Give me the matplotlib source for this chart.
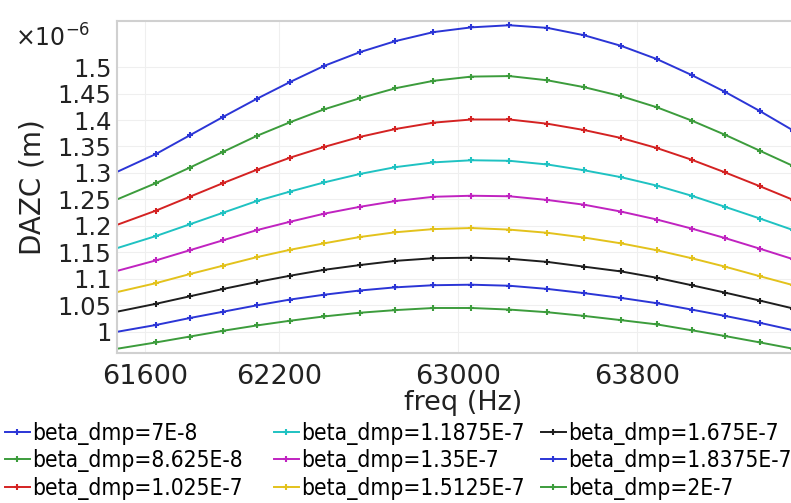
import matplotlib
matplotlib.use('Agg')
import matplotlib.pyplot as plt
from matplotlib import font_manager

# frequencies (Hz), roughly where the markers sit in the original
freq = [61475, 61650, 61800, 61950, 62100, 62250, 62400, 62560, 62720, 62890,
        63060, 63230, 63400, 63565, 63730, 63890, 64045, 64195, 64350, 64500]

# DAZC values (x1e-6 m)
dazc_7e8 = [1.302, 1.336, 1.371, 1.406, 1.440, 1.472, 1.502, 1.528, 1.549, 1.566,
            1.575, 1.579, 1.574, 1.560, 1.540, 1.515, 1.485, 1.453, 1.417, 1.380]
dazc_8625e8 = [1.250, 1.281, 1.310, 1.340, 1.370, 1.396, 1.420, 1.441, 1.460, 1.474,
               1.482, 1.483, 1.475, 1.462, 1.445, 1.424, 1.399, 1.372, 1.342, 1.313]
dazc_1025e7 = [1.202, 1.229, 1.255, 1.281, 1.306, 1.329, 1.349, 1.368, 1.383, 1.395,
               1.401, 1.401, 1.393, 1.381, 1.366, 1.347, 1.325, 1.301, 1.275, 1.249]
dazc_11875e7 = [1.158, 1.181, 1.203, 1.225, 1.247, 1.265, 1.282, 1.298, 1.311, 1.320,
                1.324, 1.323, 1.316, 1.305, 1.292, 1.276, 1.257, 1.236, 1.214, 1.192]
dazc_135e7 = [1.115, 1.135, 1.154, 1.173, 1.192, 1.208, 1.223, 1.236, 1.247, 1.255,
              1.257, 1.256, 1.249, 1.240, 1.227, 1.212, 1.195, 1.177, 1.157, 1.137]
dazc_15125e7 = [1.075, 1.092, 1.109, 1.125, 1.141, 1.155, 1.167, 1.179, 1.188, 1.194,
                1.196, 1.193, 1.187, 1.178, 1.167, 1.154, 1.139, 1.123, 1.105, 1.088]
dazc_1675e7 = [1.038, 1.053, 1.067, 1.081, 1.094, 1.106, 1.117, 1.126, 1.134, 1.139,
               1.140, 1.138, 1.132, 1.123, 1.114, 1.102, 1.088, 1.074, 1.059, 1.044]
dazc_18375e7 = [1.000, 1.013, 1.026, 1.038, 1.050, 1.061, 1.070, 1.078, 1.084, 1.088,
                1.089, 1.087, 1.081, 1.073, 1.064, 1.054, 1.042, 1.030, 1.017, 1.003]
dazc_2e7 = [0.968, 0.980, 0.991, 1.002, 1.012, 1.021, 1.029, 1.036, 1.041, 1.045,
            1.045, 1.042, 1.037, 1.030, 1.022, 1.014, 1.003, 0.992, 0.980, 0.968]

labels = ['beta_dmp=7E-8', 'beta_dmp=8.625E-8', 'beta_dmp=1.025E-7',
          'beta_dmp=1.1875E-7', 'beta_dmp=1.35E-7', 'beta_dmp=1.5125E-7',
          'beta_dmp=1.675E-7', 'beta_dmp=1.8375E-7', 'beta_dmp=2E-7']
colors = ['#2b35d6', '#3c9c3c', '#d42222', '#1fc2c2', '#c023c0',
          '#e3c21c', '#1e1e1e', '#2b35d6', '#3c9c3c']

yticks = [1.0, 1.05, 1.1, 1.15, 1.2, 1.25, 1.3, 1.35, 1.4, 1.45, 1.5]
ytick_labels = ['1', '1.05', '1.1', '1.15', '1.2', '1.25', '1.3',
                '1.35', '1.4', '1.45', '1.5']
xticks = [61600, 62200, 63000, 63800]

series = [dazc_7e8, dazc_8625e8, dazc_1025e7, dazc_11875e7, dazc_135e7,
          dazc_15125e7, dazc_1675e7, dazc_18375e7, dazc_2e7]

# legend text in the original is a condensed face; use it if it is installed
names = [f.name + '|' + str(f.stretch) for f in font_manager.fontManager.ttflist]
has_condensed = any(n.startswith('DejaVu Sans|') and 'condensed' in n for n in names)
if has_condensed:
    leg_font = dict(family='DejaVu Sans', stretch='condensed', size=16.3)
else:
    leg_font = dict(family='DejaVu Sans', size=14.3)

fig = plt.figure(figsize=(7.91, 5.03), dpi=100)
# axes runs a little past the right edge, like the cropped original
ax = fig.add_axes([117/791, 150/503, 692/791, 332/503])

for vals, lab, col in zip(series, labels, colors):
    ax.plot(freq, vals, color=col, lw=1.4, marker='+', ms=4.5, mew=1.5,
            markevery=range(1, len(freq)), label=lab)

ax.set_xlim(61475, 64570)
ax.set_ylim(0.960, 1.587)
ax.set_xticks(xticks)
ax.set_xticklabels([str(t) for t in xticks])
ax.set_yticks(yticks)
ax.set_yticklabels(ytick_labels)
ax.tick_params(axis='x', length=0, pad=8, labelsize=19.5, colors='#222222')
ax.tick_params(axis='y', length=0, pad=4, labelsize=17.5, colors='#222222')
ax.grid(color='#efefef', lw=0.8)
for side in ['top', 'bottom', 'left']:
    ax.spines[side].set_color('#d0d0d0')
    ax.spines[side].set_linewidth(1.5)
ax.spines['right'].set_visible(False)

ax.set_xlabel('freq (Hz)', fontsize=19.5, labelpad=0, color='#222222')
ax.set_ylabel('DAZC (m)', fontsize=20, labelpad=8, color='#222222')
fig.text(15/791, 1 - 47/503, r'$\times10^{-6}$', fontsize=17,
         ha='left', va='baseline', color='#222222')

# three legend columns, each placed where the original has it
handles, labs = ax.get_legend_handles_labels()
col_x = [5, 274, 541]
for i, x0 in enumerate(col_x):
    fig.legend(handles[3*i:3*i+3], labs[3*i:3*i+3], loc='upper left',
               bbox_to_anchor=(x0/791, 0.162), frameon=False, prop=leg_font,
               handlelength=1.1, handletextpad=0.1, labelspacing=0.2,
               borderpad=0, borderaxespad=0)

fig.savefig('out.png', dpi=100)
